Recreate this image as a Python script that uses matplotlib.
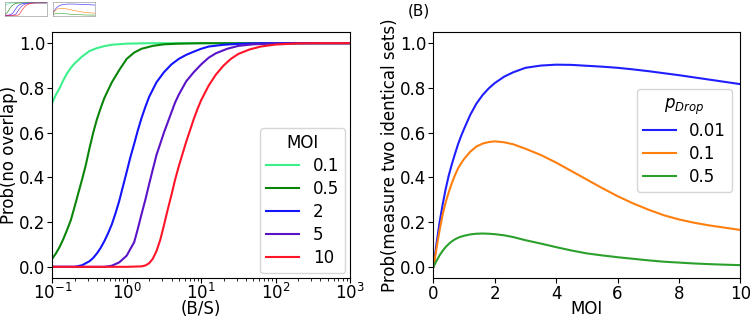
import matplotlib
matplotlib.use("Agg")
import matplotlib.pyplot as plt

# ---- left panel: Prob(no overlap) vs (B/S), one curve per MOI ----
moi_labels = ["0.1", "0.5", "2", "5", "10"]
moi_colors = ["#3cf08c", "#0a850a", "#1414ff", "#5a14c8", "#ff1428"]

bs_01 = [0.1, 0.112, 0.126, 0.141, 0.158, 0.178, 0.2, 0.251, 0.316, 0.398, 0.501, 0.631, 1.0, 2.0, 1000]
p_01 = [0.734, 0.77, 0.80, 0.835, 0.865, 0.89, 0.91, 0.94, 0.965, 0.978, 0.987, 0.993, 0.998, 1.0, 1.0]

bs_05 = [0.1, 0.112, 0.126, 0.141, 0.158, 0.178, 0.2, 0.224, 0.251, 0.282, 0.316, 0.355, 0.398,
         0.447, 0.501, 0.562, 0.631, 0.794, 1.0, 1.26, 1.58, 2.24, 3.16, 5.01, 10, 1000]
p_05 = [0.037, 0.06, 0.09, 0.125, 0.165, 0.21, 0.27, 0.33, 0.39, 0.455, 0.53, 0.60, 0.66,
        0.71, 0.755, 0.79, 0.825, 0.88, 0.93, 0.958, 0.975, 0.988, 0.995, 0.998, 1.0, 1.0]

bs_2 = [0.1, 0.2, 0.251, 0.316, 0.355, 0.398, 0.447, 0.501, 0.562, 0.631, 0.708, 0.794, 0.891,
        1.0, 1.12, 1.26, 1.41, 1.58, 1.78, 2.0, 2.51, 3.16, 3.98, 5.01, 6.31, 7.94, 10,
        12.6, 20, 31.6, 63.1, 1000]
p_2 = [0.0, 0.0, 0.007, 0.025, 0.04, 0.06, 0.085, 0.115, 0.15, 0.19, 0.24, 0.295, 0.36,
       0.425, 0.49, 0.55, 0.61, 0.665, 0.715, 0.76, 0.825, 0.87, 0.905, 0.93, 0.948, 0.962, 0.975,
       0.985, 0.993, 0.997, 1.0, 1.0]

bs_5 = [0.1, 0.501, 0.631, 0.794, 0.891, 1.0, 1.12, 1.26, 1.41, 1.58, 1.78, 2.0, 2.24, 2.51,
        2.82, 3.16, 3.55, 3.98, 4.47, 5.01, 6.31, 7.94, 10, 12.6, 15.8, 22.4, 31.6, 50.1, 100,
        200, 1000]
p_5 = [0.0, 0.0, 0.005, 0.02, 0.035, 0.05, 0.08, 0.11, 0.17, 0.235, 0.30, 0.37, 0.435, 0.50,
       0.55, 0.60, 0.645, 0.69, 0.735, 0.77, 0.83, 0.87, 0.905, 0.935, 0.955, 0.975, 0.988, 0.995, 0.999,
       1.0, 1.0]

bs_10 = [0.1, 1.0, 1.58, 1.78, 2.0, 2.24, 2.51, 2.82, 3.16, 3.55, 3.98, 4.47, 5.01, 5.62,
         6.31, 7.08, 7.94, 8.91, 10, 12.6, 15.8, 20, 25.1, 31.6, 44.7, 63.1, 100, 200, 398, 1000]
p_10 = [0.0, 0.0, 0.002, 0.006, 0.016, 0.036, 0.07, 0.12, 0.185, 0.255, 0.32, 0.39, 0.45, 0.505,
        0.56, 0.61, 0.66, 0.705, 0.745, 0.81, 0.86, 0.90, 0.93, 0.952, 0.972, 0.985, 0.994, 0.999, 1.0, 1.0]

# ---- right panel: Prob(measure two identical sets) vs MOI, one curve per p_Drop ----
pdrop_labels = ["0.01", "0.1", "0.5"]
pdrop_colors = ["#1f1fff", "#ff7f0e", "#2ca02c"]

moi = [0, 0.1, 0.2, 0.3, 0.4, 0.5, 0.6, 0.7, 0.8, 0.9, 1.0,
       1.2, 1.4, 1.6, 1.8, 2.0,
       2.3, 2.6, 3.0, 3.5,
       4.0, 4.5, 5.0, 5.5, 6.0, 6.5, 7.0, 7.5, 8.0, 8.5, 9.0, 9.5, 10]
p_drop_001 = [0, 0.105, 0.2, 0.28, 0.35, 0.41, 0.46, 0.505, 0.548, 0.585, 0.618,
              0.68, 0.73, 0.768, 0.798, 0.822,
              0.85, 0.87, 0.89, 0.9,
              0.904, 0.903, 0.899, 0.895, 0.89, 0.883, 0.875, 0.866, 0.857, 0.847, 0.837, 0.827, 0.817]
p_drop_01 = [0, 0.085, 0.165, 0.235, 0.29, 0.335, 0.375, 0.41, 0.44, 0.463, 0.483,
             0.515, 0.538, 0.551, 0.558, 0.561,
             0.557, 0.548, 0.528, 0.5,
             0.466, 0.428, 0.39, 0.352, 0.316, 0.284, 0.256, 0.231, 0.212, 0.197, 0.185, 0.175, 0.165]
p_drop_05 = [0, 0.027, 0.052, 0.072, 0.089, 0.103, 0.114, 0.123, 0.13, 0.135, 0.139,
             0.145, 0.148, 0.149, 0.148, 0.146,
             0.141, 0.133, 0.119, 0.104,
             0.088, 0.073, 0.06, 0.051, 0.043, 0.036, 0.029, 0.023, 0.019, 0.015, 0.012, 0.0095, 0.0075]

FS = 12
YTICKS = [0.0, 0.2, 0.4, 0.6, 0.8, 1.0]


def left_series():
    return [(bs_01, p_01), (bs_05, p_05), (bs_2, p_2), (bs_5, p_5), (bs_10, p_10)]


def right_series():
    return [p_drop_001, p_drop_01, p_drop_05]


def plot_left(ax):
    for (x, y), lab, col in zip(left_series(), moi_labels, moi_colors):
        ax.plot(x, y, color=col, lw=1.5, label=lab)
    ax.set_xscale("log")
    ax.set_xlim(0.1, 1000)
    ax.set_ylim(-0.05, 1.05)
    ax.set_yticks(YTICKS)
    ax.set_xlabel("(B/S)", fontsize=FS)
    ax.xaxis.set_label_coords(0.5, -0.09)
    ax.set_ylabel("Prob(no overlap)", fontsize=FS, labelpad=1)
    ax.tick_params(labelsize=FS, pad=1.5)
    ax.tick_params(axis="x", pad=0)
    ax.legend(title="MOI", loc="lower right", fontsize=FS, title_fontsize=FS,
              labelspacing=0.3, borderaxespad=0.3, borderpad=0.35)


def plot_right(ax):
    for y, lab, col in zip(right_series(), pdrop_labels, pdrop_colors):
        ax.plot(moi, y, color=col, lw=1.5, label=lab)
    ax.set_xlim(0, 10)
    ax.set_ylim(-0.05, 1.05)
    ax.set_yticks(YTICKS)
    ax.set_xlabel("MOI", fontsize=FS)
    ax.xaxis.set_label_coords(0.5, -0.088)
    ax.set_ylabel("Prob(measure two identical sets)", fontsize=FS, labelpad=1)
    ax.tick_params(labelsize=FS, pad=1.5)
    ax.legend(title="$p_{Drop}$", loc="center right", bbox_to_anchor=(1.0, 0.56),
              fontsize=FS, title_fontsize=FS, labelspacing=0.3, borderpad=0.35)


def plot_thumbnail(fig):
    # tiny copy of the figure stuck in the top-left corner of the original
    t1 = fig.add_axes([0.006, 0.95, 0.056, 0.043])
    for (x, y), col in zip(left_series(), moi_colors):
        t1.plot(x, y, color=col, lw=0.4)
    t1.set_xscale("log")
    t1.set_xlim(0.1, 1000)
    t2 = fig.add_axes([0.07, 0.95, 0.057, 0.043])
    for y, col in zip(right_series(), pdrop_colors):
        t2.plot(moi, y, color=col, lw=0.4)
    t2.set_xlim(0, 10)
    for t in (t1, t2):
        t.set_ylim(-0.05, 1.05)
        t.set_xticks([])
        t.set_yticks([])
        t.minorticks_off()
        for s in t.spines.values():
            s.set_linewidth(0.4)
            s.set_color("#888888")


def main():
    fig = plt.figure(figsize=(7.5, 3.17), dpi=100)
    ax1 = fig.add_axes([0.0697, 0.123, 0.397, 0.776])
    ax2 = fig.add_axes([0.578, 0.123, 0.409, 0.776])
    plot_left(ax1)
    plot_right(ax2)
    plot_thumbnail(fig)
    fig.text(0.543, 0.965, "(B)", fontsize=11, va="center")
    fig.savefig("out.png", dpi=100)


if __name__ == "__main__":
    main()
